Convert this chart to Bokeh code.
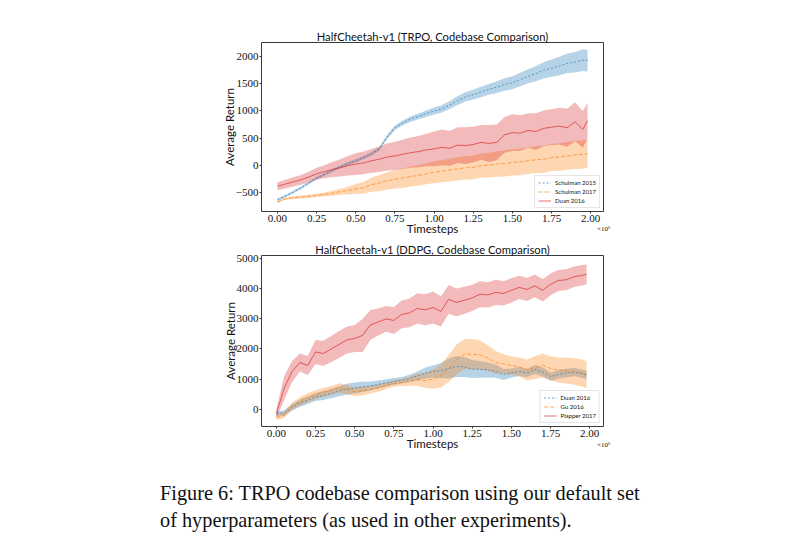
from bokeh.plotting import figure
from bokeh.layouts import column
from bokeh.models import Range1d, Legend, LegendItem, Div, FixedTicker, Title
from bokeh.embed import file_html
from bokeh.resources import INLINE

# ---------------- data ----------------
steps = [0.00, 0.05, 0.10, 0.15, 0.20, 0.25, 0.30, 0.35, 0.40, 0.45,
         0.50, 0.55, 0.60, 0.65, 0.70, 0.75, 0.80, 0.85, 0.90, 0.95,
         1.00, 1.05, 1.10, 1.15, 1.20, 1.25, 1.30, 1.35, 1.40, 1.45,
         1.50, 1.55, 1.60, 1.65, 1.70, 1.75, 1.80, 1.85, 1.90, 1.95, 1.98]

# TRPO panel
trpo_schulman2015 = [-640, -570, -500, -420, -330, -240, -170, -100, -30, 30,
                     80, 140, 210, 300, 520, 690, 780, 850, 900, 950,
                     1000, 1040, 1110, 1190, 1260, 1300, 1350, 1400, 1440, 1490,
                     1520, 1580, 1640, 1690, 1750, 1790, 1830, 1880, 1900, 1940, 1930]
trpo_schulman2015_sd = [25, 25, 25, 25, 25, 25, 25, 25, 25, 30,
                        30, 30, 30, 35, 40, 40, 45, 50, 55, 60,
                        65, 70, 75, 80, 85, 90, 95, 100, 110, 115,
                        120, 125, 130, 140, 150, 160, 170, 180, 190, 200, 200]
trpo_schulman2017 = [-680, -620, -600, -590, -575, -560, -540, -520, -490, -470,
                     -440, -420, -360, -330, -290, -260, -240, -210, -190, -160,
                     -130, -110, -90, -70, -50, -40, -10, 0, 20, 30,
                     50, 60, 80, 100, 110, 140, 150, 170, 190, 200, 210]
trpo_schulman2017_sd = [20, 20, 25, 25, 30, 30, 35, 45, 55, 70,
                        90, 110, 130, 150, 160, 170, 180, 185, 190, 195,
                        200, 205, 210, 215, 220, 220, 225, 230, 235, 240,
                        240, 245, 245, 250, 250, 250, 255, 255, 260, 260, 260]
trpo_duan2016 = [-390, -350, -310, -270, -220, -160, -120, -80, -50, -10,
                 20, 40, 80, 110, 150, 170, 200, 230, 250, 280,
                 300, 330, 310, 370, 360, 380, 420, 400, 420, 560,
                 600, 590, 640, 620, 680, 700, 720, 690, 800, 660, 820]
trpo_duan2016_sd = [75, 80, 85, 90, 100, 110, 120, 140, 160, 180,
                    200, 210, 220, 235, 250, 260, 270, 280, 290, 300,
                    320, 330, 320, 330, 340, 330, 320, 340, 330, 330,
                    340, 330, 320, 340, 330, 330, 340, 350, 360, 340, 330]

# DDPG panel
ddpg_duan2016 = [-150, -130, 50, 200, 300, 400, 450, 520, 600, 660,
                 700, 740, 770, 820, 870, 920, 960, 1020, 1100, 1200,
                 1250, 1280, 1350, 1420, 1400, 1330, 1320, 1300, 1260, 1150,
                 1200, 1250, 1200, 1320, 1230, 1080, 1150, 1200, 1230, 1180, 1130]
ddpg_duan2016_sd = [80, 90, 110, 120, 130, 130, 150, 160, 170, 180,
                    180, 170, 150, 130, 120, 110, 110, 120, 150, 180,
                    200, 250, 330, 350, 330, 300, 280, 250, 220, 180,
                    150, 150, 140, 150, 150, 140, 140, 140, 140, 140, 140]
ddpg_gu2016 = [-280, -200, 100, 250, 380, 480, 560, 620, 700, 650,
               580, 600, 650, 700, 780, 850, 880, 930, 980, 950,
               1000, 1100, 1350, 1650, 1820, 1830, 1800, 1700, 1550, 1500,
               1450, 1400, 1300, 1380, 1450, 1350, 1300, 1280, 1250, 1200, 1150]
ddpg_gu2016_sd = [80, 100, 120, 140, 150, 150, 150, 150, 160, 150,
                  150, 150, 130, 120, 110, 100, 120, 150, 200, 250,
                  320, 380, 450, 500, 500, 500, 480, 420, 380, 320,
                  300, 320, 350, 380, 400, 400, 420, 430, 440, 450, 450]
ddpg_plapper2017 = [-150, 700, 1250, 1550, 1450, 1900, 1850, 2000, 2150, 2300,
                    2350, 2450, 2800, 2900, 3000, 2950, 3150, 3200, 3350, 3300,
                    3380, 3250, 3650, 3550, 3620, 3700, 3820, 3800, 3880, 3850,
                    3950, 4050, 3980, 4100, 3950, 4150, 4280, 4300, 4400, 4450, 4480]
ddpg_plapper2017_sd = [150, 400, 350, 300, 320, 400, 420, 430, 450, 450,
                       450, 550, 500, 450, 430, 450, 460, 480, 500, 520,
                       530, 500, 480, 460, 450, 440, 430, 420, 420, 400,
                       400, 390, 380, 380, 370, 360, 350, 350, 340, 340, 330]

x_ticks = [0.0, 0.25, 0.5, 0.75, 1.0, 1.25, 1.5, 1.75, 2.0]
x_tick_labels = ["0.00", "0.25", "0.50", "0.75", "1.00", "1.25", "1.50", "1.75", "2.00"]
trpo_y_ticks = [-500, 0, 500, 1000, 1500, 2000]
ddpg_y_ticks = [0, 1000, 2000, 3000, 4000, 5000]

BLUE = "#1f77b4"
ORANGE = "#ff7f0e"
RED = "#d62728"

SANS = "Lato"
SERIF = "Liberation Serif"


def make_panel(title, xr, yr, width, height, b_left, b_right, b_top, b_bottom,
               yticks, series, exp_standoff):
    p = figure(width=width, height=height, output_backend="svg", toolbar_location=None,
               x_range=Range1d(*xr), y_range=Range1d(*yr),
               min_border_left=b_left, min_border_right=b_right,
               min_border_top=b_top, min_border_bottom=b_bottom,
               title=title)
    p.title.text_font = SANS
    p.title.text_font_size = "11.2px"
    p.title.text_font_style = "normal"
    p.title.align = "center"
    p.title.standoff = 0
    p.title.text_color = "#111111"
    p.xgrid.visible = False
    p.ygrid.visible = False
    p.outline_line_color = "#3a3a3a"
    p.outline_line_width = 1
    p.background_fill_color = "white"
    p.border_fill_color = "white"

    for ax in (p.xaxis[0], p.yaxis[0]):
        ax.axis_line_color = None
        ax.major_tick_in = 0
        ax.major_tick_out = 2
        ax.major_tick_line_color = "#3a3a3a"
        ax.minor_tick_line_color = None
        ax.major_label_text_font = SERIF
        ax.major_label_text_font_size = "11px"
        ax.major_label_text_color = "#111111"
        ax.axis_label_text_font = SANS
        ax.axis_label_text_font_size = "11.5px"
        ax.axis_label_text_font_style = "normal"
        ax.axis_label_text_color = "#111111"
        ax.major_label_standoff = 1

    p.xaxis.ticker = FixedTicker(ticks=x_ticks)
    p.xaxis.major_label_overrides = {t: l for t, l in zip(x_ticks, x_tick_labels)}
    p.xaxis.axis_label = "Timesteps"
    p.xaxis.axis_label_standoff = -3
    p.yaxis.ticker = FixedTicker(ticks=yticks)
    p.yaxis.major_label_overrides = {t: (("\u2212" + str(-t)) if t < 0 else str(t)) for t in yticks}
    p.yaxis.axis_label = "Average Return"
    p.yaxis.axis_label_standoff = -3

    items = []
    for name, mean, sd, color, dash in series:
        lo = [m - s for m, s in zip(mean, sd)]
        hi = [m + s for m, s in zip(mean, sd)]
        p.varea(x=steps, y1=lo, y2=hi, fill_color=color, fill_alpha=0.32)
    for name, mean, sd, color, dash in series:
        r = p.line(x=steps, y=mean, line_color=color, line_width=0.9, line_dash=dash, line_alpha=0.75)
        items.append(LegendItem(label=name, renderers=[r]))

    legend = Legend(items=items, location="bottom_right",
                    label_text_font=SANS, label_text_font_size="6px",
                    label_text_color="#111111",
                    glyph_width=13, glyph_height=7, label_height=7,
                    label_standoff=4, spacing=2, padding=3, margin=3,
                    border_line_color="#cccccc", border_line_width=1,
                    background_fill_alpha=0.85)
    p.add_layout(legend)

    # axis offset text (x10^6), just below the right end of the x axis
    t = Title(text="\u00d710\u2076", align="right", vertical_align="top",
              text_font=SERIF, text_font_size="7px", text_font_style="normal",
              text_color="#111111", standoff=exp_standoff, offset=-7)
    p.add_layout(t, "below")
    return p


p1 = make_panel("HalfCheetah-v1 (TRPO, Codebase Comparison)",
                (-0.102, 2.082), (-856, 2264),
                648, 240, 261, 45, 42, 29, trpo_y_ticks,
                [("Schulman 2015", trpo_schulman2015, trpo_schulman2015_sd, BLUE, "2 2"),
                 ("Schulman 2017", trpo_schulman2017, trpo_schulman2017_sd, ORANGE, "4 2"),
                 ("Duan 2016", trpo_duan2016, trpo_duan2016_sd, RED, "solid")],
                -26)

p2 = make_panel("HalfCheetah-v1 (DDPG, Codebase Comparison)",
                (-0.095, 2.088), (-580, 5110),
                648, 216, 258, 44, 15, 30, ddpg_y_ticks,
                [("Duan 2016", ddpg_duan2016, ddpg_duan2016_sd, BLUE, "2 2"),
                 ("Gu 2016", ddpg_gu2016, ddpg_gu2016_sd, ORANGE, "4 2"),
                 ("Plapper 2017", ddpg_plapper2017, ddpg_plapper2017_sd, RED, "solid")],
                -24)

caption = Div(text="Figure 6: TRPO codebase comparison using our default set<br>"
                   "of hyperparameters (as used in other experiments).",
              styles={"font-family": "Liberation Serif", "font-size": "20.3px",
                      "line-height": "27px", "color": "#111111"},
              width=620, margin=(24, 0, 0, 160))

layout = column(p1, p2, caption, spacing=0)

with open("out.html", "w") as f:
    f.write(file_html(layout, INLINE))
